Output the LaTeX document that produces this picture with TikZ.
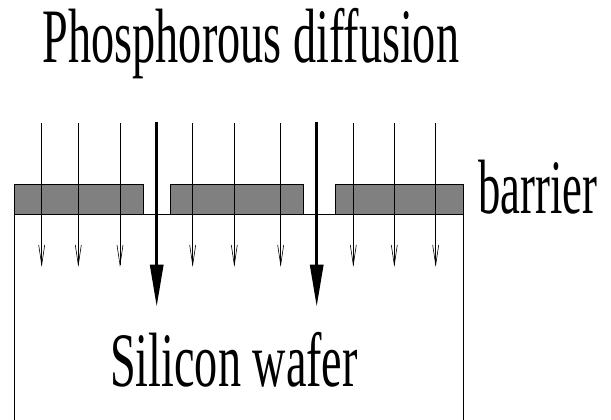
\documentclass[tikz,border=0pt]{standalone}
\usepackage{fontspec}
\usepackage{graphicx}
\setmainfont{Liberation Serif}
\usetikzlibrary{arrows.meta}
\tikzset{
  lbl/.style={inner sep=0pt, anchor=base, font=\fontsize{77}{82}\selectfont},
  thinarrow/.style={line width=0.6pt, -{Straight Barb[length=20pt,width=6pt,line width=0.6pt]}},
  thickarrow/.style={line width=3pt, -{Triangle[length=42pt,width=13pt]}},
  barrierbox/.style={draw=black, fill=black!50, line width=0.9pt},
  waferline/.style={draw=black, line width=0.9pt}
}
\begin{document}
\begin{tikzpicture}[x=1pt,y=-1pt]
\useasboundingbox (0,0) rectangle (611,420);
% texts
\node[lbl] (title) at (251,63) {\scalebox{0.6}[1]{Phosphorous diffusion}};
\node[lbl] (barrier) at (538,213) {\scalebox{0.58}[1]{barrier}};
\node[lbl] (wafer) at (234,386.5) {\scalebox{0.6}[1]{Silicon wafer}};
% barrier blocks
\node[barrierbox, minimum width=128.7pt, minimum height=30pt, inner sep=0pt, anchor=north west] (b1) at (14,184) {};
\node[barrierbox, minimum width=132.4pt, minimum height=30pt, inner sep=0pt, anchor=north west] (b2) at (170.3,184) {};
\node[barrierbox, minimum width=127.7pt, minimum height=30pt, inner sep=0pt, anchor=north west] (b3) at (335.3,184) {};
% wafer
\coordinate (wl) at (14,420);
\coordinate (wr) at (463,420);
\coordinate (wtl) at (14,214);
\coordinate (wtr) at (463,214);
\draw[waferline] (wl) -- (wtl) -- (wtr) -- (wr);
% thin arrows
\foreach \i/\x in {1/41.7,2/78.3,3/120,4/192.7,5/234.3,6/280.7,7/353.3,8/394.3,9/435.7}{
  \coordinate (s\i) at (\x,123);
  \coordinate (e\i) at (\x,267);
  \draw[thinarrow] (s\i) -- (e\i);
}
% thick arrows
\coordinate (ts1) at (156.7,121.7);
\coordinate (te1) at (156.7,306.7);
\coordinate (ts2) at (316.7,121.7);
\coordinate (te2) at (316.7,306.7);
\draw[thickarrow] (ts1) -- (te1);
\draw[thickarrow] (ts2) -- (te2);
\end{tikzpicture}
\end{document}
